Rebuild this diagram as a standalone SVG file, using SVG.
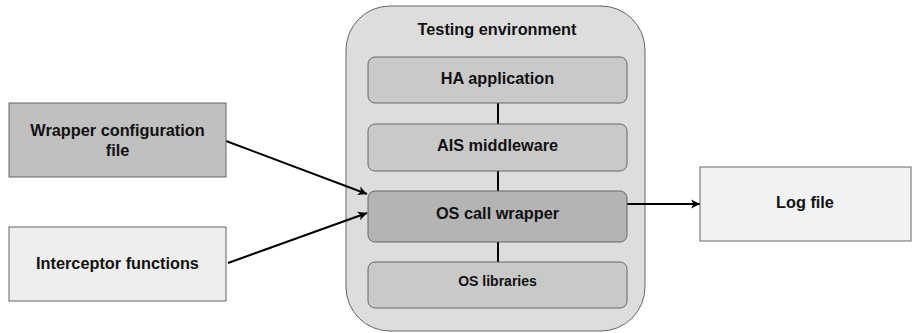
<svg xmlns="http://www.w3.org/2000/svg" width="912" height="333" viewBox="0 0 912 333">
<defs>
<marker id="arr" markerWidth="12" markerHeight="12" refX="9" refY="6" orient="auto" markerUnits="userSpaceOnUse">
<path d="M0,1.5 L9,6 L0,10.5 L2.5,6 Z" fill="#000"/>
</marker>
</defs>
<style>
text{font-family:"Liberation Sans",Arial,sans-serif;font-weight:bold;font-size:16.3px;fill:#111;text-anchor:middle;dominant-baseline:central}
.box{stroke:#666;stroke-width:1}
.conn{stroke:#000;stroke-width:2;fill:none}
</style>
<rect width="912" height="333" fill="#fff"/>
<g id="testing-environment">
<rect class="box" x="346" y="6" width="299" height="325" rx="44" fill="#dddddd"/>
<text x="497" y="29">Testing environment</text>
</g>
<g id="connectors">
<line class="conn" x1="498" y1="103" x2="498" y2="124"/>
<line class="conn" x1="498" y1="171" x2="498" y2="191"/>
<line class="conn" x1="498" y1="242" x2="498" y2="262"/>
<line class="conn" x1="226" y1="141" x2="367" y2="194" marker-end="url(#arr)"/>
<line class="conn" x1="228" y1="263" x2="367" y2="213" marker-end="url(#arr)"/>
<line class="conn" x1="627" y1="204" x2="700" y2="204" marker-end="url(#arr)"/>
</g>
<g id="ha-application">
<rect class="box" x="368" y="57" width="259" height="46" rx="7" fill="#c9c9c9"/>
<text x="497.5" y="78">HA application</text>
</g>
<g id="ais-middleware">
<rect class="box" x="368" y="124" width="259" height="47" rx="7" fill="#c9c9c9"/>
<text x="497.5" y="145">AIS middleware</text>
</g>
<g id="os-call-wrapper">
<rect class="box" x="368" y="191" width="259" height="51" rx="7" fill="#b4b4b4"/>
<text x="497.5" y="213">OS call wrapper</text>
</g>
<g id="os-libraries">
<rect class="box" x="368" y="262" width="259" height="46" rx="7" fill="#c9c9c9"/>
<text x="497.5" y="281" style="font-size:14px">OS libraries</text>
</g>
<g id="wrapper-config">
<rect class="box" x="9" y="103" width="217" height="74" fill="#c0c0c0"/>
<text x="117.5" y="130">Wrapper configuration</text>
<text x="117.5" y="150">file</text>
</g>
<g id="interceptor-functions">
<rect class="box" x="9" y="227" width="217" height="74" fill="#eeeeee"/>
<text x="117.5" y="263">Interceptor functions</text>
</g>
<g id="log-file">
<rect class="box" x="700" y="167" width="211" height="74" fill="#f2f2f2"/>
<text x="805" y="202">Log file</text>
</g>
</svg>
